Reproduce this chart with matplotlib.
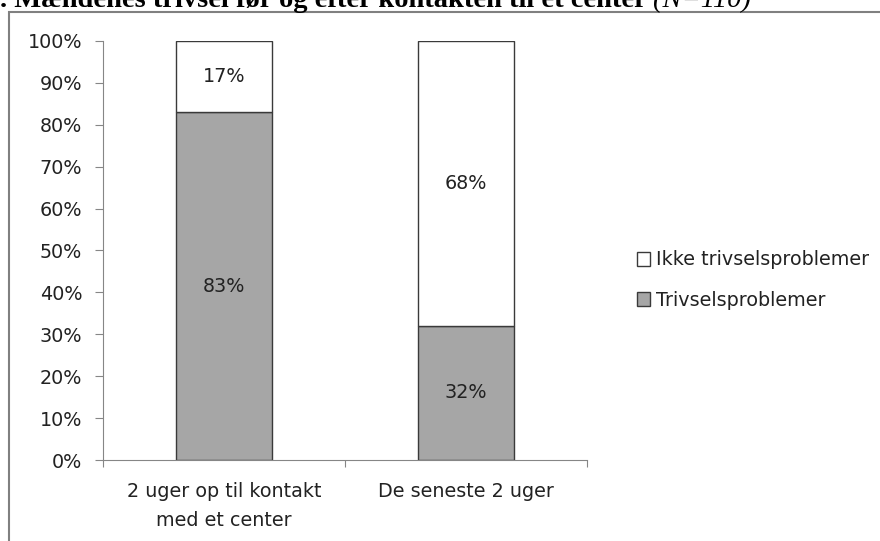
import matplotlib.pyplot as plt
import numpy as np
from matplotlib.patches import Rectangle

categories = ['2 uger op til kontakt\nmed et center', 'De seneste 2 uger']
trivsel = [83, 32]
ikke_trivsel = [17, 68]
yticks = [0, 10, 20, 30, 40, 50, 60, 70, 80, 90, 100]

plt.rcParams['font.family'] = ['DejaVu Sans']
fs = 13.8
txt = '#222222'

fig = plt.figure(figsize=(8.8, 5.41), dpi=100)
ax = fig.add_axes([103/880, 1 - 460/541, 484/880, 419/541])

x = np.arange(len(categories))
ax.bar(x, trivsel, width=0.4, color='#a6a6a6', edgecolor='#3a3a3a', linewidth=1.0,
       label='Trivselsproblemer')
ax.bar(x, ikke_trivsel, width=0.4, bottom=trivsel, color='white', edgecolor='#3a3a3a',
       linewidth=1.0, label='Ikke trivselsproblemer')

for i in range(len(categories)):
    ax.text(x[i], trivsel[i] / 2, f'{trivsel[i]}%', ha='center', va='center',
            fontsize=fs, color=txt)
    ax.text(x[i], trivsel[i] + ikke_trivsel[i] / 2, f'{ikke_trivsel[i]}%', ha='center',
            va='center', fontsize=fs, color=txt)

ax.set_xlim(-0.5, len(categories) - 0.5)
ax.set_ylim(0, 100)
ax.set_yticks(yticks)
ax.set_yticklabels([f'{v}%' for v in yticks], fontsize=fs, color=txt)

ax.set_xticks([-0.5, 0.5, 1.5])
ax.set_xticklabels(['', '', ''])
ax.set_xticks(x, minor=True)
ax.set_xticklabels(categories, minor=True, fontsize=fs, color=txt, linespacing=1.65)
ax.tick_params(axis='x', which='minor', length=0, pad=16)
ax.tick_params(axis='x', which='major', length=5, color='#868686', direction='out')
ax.tick_params(axis='y', length=6, color='#868686', direction='out', pad=9)

for s in ['top', 'right']:
    ax.spines[s].set_visible(False)
for s in ['left', 'bottom']:
    ax.spines[s].set_color('#868686')

handles, labels = ax.get_legend_handles_labels()
leg = fig.legend(handles[::-1], labels[::-1], loc='center left',
                 bbox_to_anchor=(627/880, 1 - 280/541), frameon=False, borderpad=0,
                 fontsize=fs, handlelength=0.72, handleheight=0.72,
                 handletextpad=0.3, labelspacing=1.1)
for t in leg.get_texts():
    t.set_color(txt)

# outer chart frame
fig.patches.append(Rectangle((9/880, -0.1), 1.2, 1 - 12/541 + 0.1,
                             transform=fig.transFigure, fill=False,
                             edgecolor='#808080', linewidth=1.5))

t1 = fig.text(0.0, 1 - 7/541, '. Mændenes trivsel før og efter kontakten til et center ',
              family='Liberation Serif', fontweight='bold', fontsize=20.5, va='baseline')
fig.canvas.draw()
bb = t1.get_window_extent()
fig.text(bb.x1 / fig.bbox.width, 1 - 7/541, '(N=110)', family='Liberation Serif',
         style='italic', fontsize=20.5, va='baseline')

plt.savefig('out.png', dpi=100)
